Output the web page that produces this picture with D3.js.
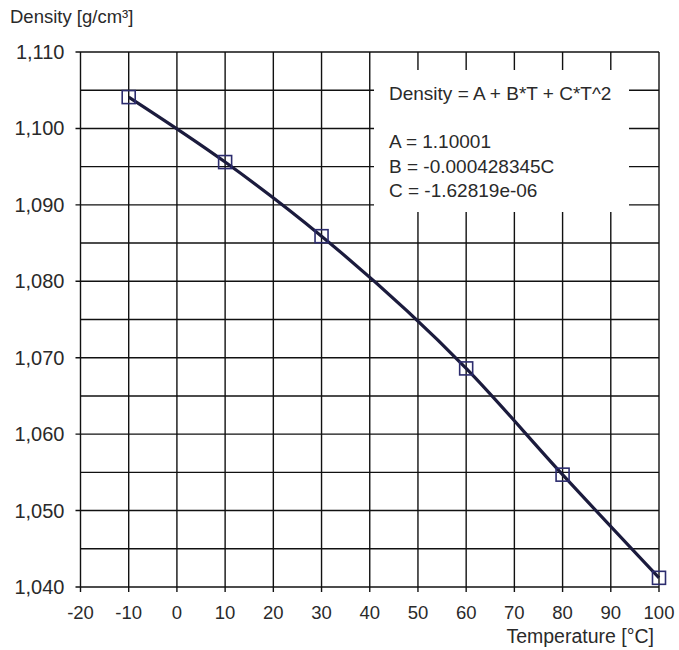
<!DOCTYPE html>
<html>
<head>
<meta charset="utf-8">
<script src="https://cdn.jsdelivr.net/npm/d3@7"></script>
<style>
  body { margin: 0; background: #fff; }
  text { font-family: "Liberation Sans", Arial, sans-serif; fill: #2a2a2a; }
</style>
</head>
<body>
<div id="chart"></div>
<script>
// Measured points (temperature in °C, density in g/cm³)
const temperatures = [-10, 10, 30, 60, 80, 100];
const densities = [1.1041, 1.0956, 1.0859, 1.0686, 1.0547, 1.0412];

// Axis ticks
const xTicks = [-20, -10, 0, 10, 20, 30, 40, 50, 60, 70, 80, 90, 100];
const yTicks = [1.04, 1.05, 1.06, 1.07, 1.08, 1.09, 1.10, 1.11];
const yGrid = [1.04, 1.045, 1.05, 1.055, 1.06, 1.065, 1.07, 1.075, 1.08, 1.085, 1.09, 1.095, 1.10, 1.105, 1.11];

// Fit annotation
const fitLines = ['Density = A + B*T + C*T^2', '', 'A = 1.10001', 'B = -0.000428345C', 'C = -1.62819e-06'];

const width = 679, height = 650;
const margin = { top: 52, right: 20, bottom: 63, left: 80.5 };

const svg = d3.select('#chart')
  .append('svg')
  .attr('width', width)
  .attr('height', height);

const x = d3.scaleLinear().domain([-20, 100]).range([margin.left, width - margin.right]);
const y = d3.scaleLinear().domain([1.04, 1.11]).range([height - margin.bottom, margin.top]);

// German-style decimal comma for y labels
const fmtY = d => d3.format('.3f')(d).replace('.', ',');

const gridColor = '#111';

// Horizontal grid lines
svg.append('g')
  .selectAll('line')
  .data(yGrid)
  .join('line')
  .attr('x1', d => yTicks.some(t => Math.abs(t - d) < 1e-9) ? x(-20) - 5 : x(-20))
  .attr('x2', x(100))
  .attr('y1', d => y(d))
  .attr('y2', d => y(d))
  .attr('stroke', gridColor)
  .attr('stroke-width', 1.4);

// Vertical grid lines
svg.append('g')
  .selectAll('line')
  .data(xTicks)
  .join('line')
  .attr('x1', d => x(d))
  .attr('x2', d => x(d))
  .attr('y1', y(1.11))
  .attr('y2', y(1.04) + 5)
  .attr('stroke', gridColor)
  .attr('stroke-width', 1.4);

// Annotation box covering grid
const boxX = 374, boxY = 70, boxW = 255, boxH = 142;
svg.append('rect')
  .attr('x', boxX)
  .attr('y', boxY)
  .attr('width', boxW)
  .attr('height', boxH)
  .attr('fill', '#fff');

svg.append('g')
  .selectAll('text')
  .data(fitLines)
  .join('text')
  .attr('x', 389)
  .attr('y', (d, i) => 100 + i * 24.2)
  .attr('font-size', '19px')
  .text(d => d);

// Y labels
svg.append('g')
  .selectAll('text')
  .data(yTicks)
  .join('text')
  .attr('x', x(-20) - 16)
  .attr('y', d => y(d))
  .attr('dy', '0.35em')
  .attr('text-anchor', 'end')
  .attr('font-size', '20px')
  .text(d => fmtY(d));

// X labels
svg.append('g')
  .selectAll('text')
  .data(xTicks)
  .join('text')
  .attr('x', d => x(d))
  .attr('y', y(1.04) + 26)
  .attr('dy', '0.35em')
  .attr('text-anchor', 'middle')
  .attr('font-size', '18.5px')
  .text(d => d);

// Axis titles
svg.append('text')
  .attr('x', 10)
  .attr('y', 23)
  .attr('font-size', '18.5px')
  .text('Density [g/cm³]');

svg.append('text')
  .attr('x', 654)
  .attr('y', 643)
  .attr('text-anchor', 'end')
  .attr('font-size', '19.5px')
  .text('Temperature [°C]');

// Curve
const pts = temperatures.map((t, i) => [t, densities[i]]);
svg.append('path')
  .datum(pts)
  .attr('d', d3.line().x(d => x(d[0])).y(d => y(d[1])).curve(d3.curveMonotoneX))
  .attr('fill', 'none')
  .attr('stroke', '#1b1b3d')
  .attr('stroke-width', 3.2);

// Markers
const sq = 13;
svg.append('g')
  .selectAll('rect')
  .data(pts)
  .join('rect')
  .attr('x', d => x(d[0]) - sq / 2)
  .attr('y', d => y(d[1]) - sq / 2)
  .attr('width', sq)
  .attr('height', sq)
  .attr('fill', 'none')
  .attr('stroke', '#2c2c6e')
  .attr('stroke-width', 1.6);
</script>
</body>
</html>
